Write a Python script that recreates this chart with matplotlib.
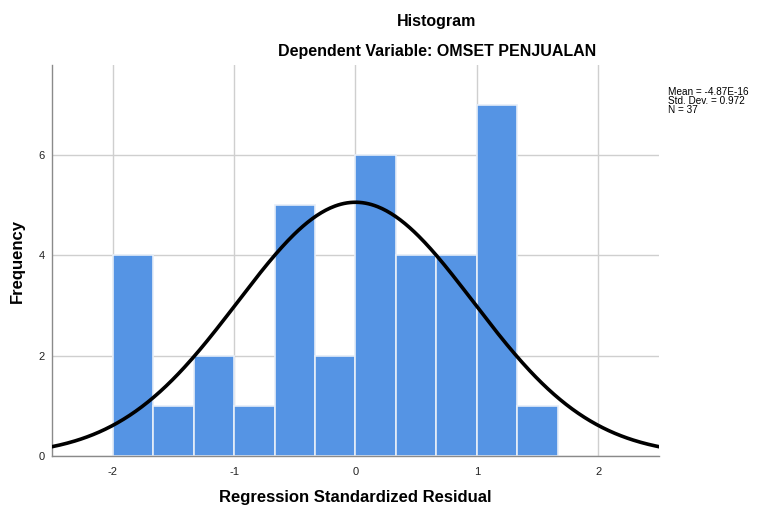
import numpy as np
import matplotlib
matplotlib.use("Agg")
import matplotlib.pyplot as plt

plt.rcParams['font.family'] = ['Liberation Sans', 'DejaVu Sans']
plt.rcParams['axes.unicode_minus'] = False

# histogram data (bins of width 1/3 starting at -2)
bin_start = -2.0
bin_width = 1.0 / 3.0
counts = [4, 1, 2, 1, 5, 2, 6, 4, 4, 7, 1]

# summary stats shown on the chart
mean = -4.87e-16
std_dev = 0.972
n_obs = 37
stats_lines = ['Mean = -4.87E-16', 'Std. Dev. = 0.972', 'N = 37']

xticks = [-2, -1, 0, 1, 2]
yticks = [0, 2, 4, 6]

fig = plt.figure(figsize=(7.57, 5.08), dpi=100)
ax = fig.add_axes([0.0687, 0.1024, 0.8018, 0.7696])

lefts = bin_start + bin_width * np.arange(len(counts))
ax.bar(lefts, counts, width=bin_width, align='edge', color='#5594e4',
       edgecolor='#e6eef8', linewidth=1.2, zorder=2)

# fitted normal curve
xs = np.linspace(-2.5, 2.5, 400)
ys = n_obs * bin_width * np.exp(-0.5 * ((xs - mean) / std_dev) ** 2) / (std_dev * np.sqrt(2 * np.pi))
ax.plot(xs, ys, color='black', linewidth=2.6, zorder=3)

ax.set_xlim(-2.5, 2.5)
ax.set_ylim(0, 7.8)
ax.set_xticks(xticks)
ax.set_yticks(yticks)
ax.tick_params(axis='x', length=0, labelsize=8, colors='#222222', pad=8)
ax.tick_params(axis='y', length=0, labelsize=8, colors='#222222', pad=5)
ax.grid(True, color='#cfcfcf', linewidth=1, zorder=0)
ax.set_axisbelow(True)
for side in ['top', 'right']:
    ax.spines[side].set_visible(False)
for side in ['left', 'bottom']:
    ax.spines[side].set_color('#8a8a8a')
    ax.spines[side].set_linewidth(1)

ax.set_xlabel('Regression Standardized Residual', fontsize=12, fontweight='bold', va='center')
ax.set_ylabel('Frequency', fontsize=12, fontweight='bold', va='center')
ax.xaxis.set_label_coords(0.5, -0.105)
ax.yaxis.set_label_coords(-0.057, 0.5)

fig.text(0.577, 0.958, 'Histogram', ha='center', va='center', fontsize=11.5, fontweight='bold')
fig.text(0.577, 0.898, 'Dependent Variable: OMSET PENJUALAN', ha='center', va='center',
         fontsize=11.5, fontweight='bold')

fig.text(0.882, 0.829, '\n'.join(stats_lines), ha='left', va='top',
         fontsize=7.2, linespacing=0.9)

fig.savefig('out.png', dpi=100)
